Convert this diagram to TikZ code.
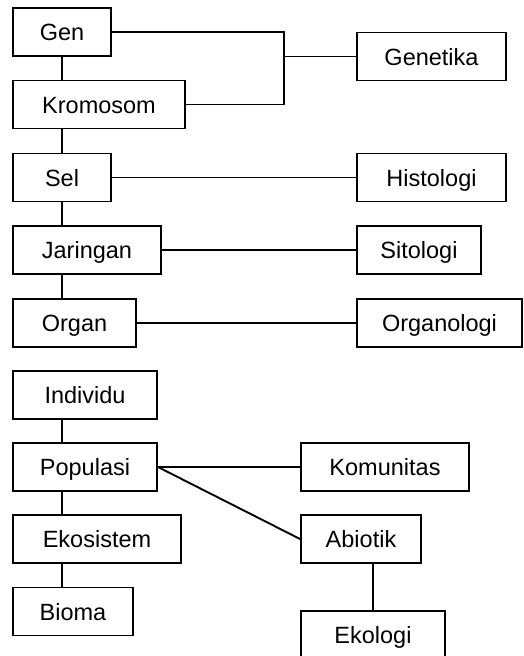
\documentclass[tikz,border=0pt]{standalone}
\usepackage{fontspec}
\setmainfont{Liberation Sans}
\begin{document}
\begin{tikzpicture}[x=1pt,y=-1pt,
  box/.style={draw, line width=1.9pt, minimum height=48pt, inner sep=0pt,
    font=\fontsize{23.5pt}{28pt}\selectfont, text height=17pt, text depth=0pt},
  conn/.style={line width=1.9pt}]
\useasboundingbox (0,0) rectangle (523,656);
\clip (0,0) rectangle (523,656);
\node[box, minimum width=98pt]  (gen) at (62,32) {Gen};
\node[box, minimum width=172pt] (kro) at (99,104.5) {Kromosom};
\node[box, minimum width=98pt]  (sel) at (62,177.5) {Sel};
\node[box, minimum width=148pt] (jar) at (87,250) {Jaringan};
\node[box, minimum width=123pt] (org) at (74.5,323) {Organ};
\node[box, minimum width=149pt] (genet) at (431.5,56.5) {Genetika};
\node[box, minimum width=149pt] (hist) at (431.5,177.5) {Histologi};
\node[box, minimum width=124pt] (sito) at (419,250) {Sitologi};
\node[box, minimum width=165pt] (organo) at (439.5,323) {Organologi};
\node[box, minimum width=144pt] (ind) at (85,395) {Individu};
\node[box, minimum width=144pt] (pop) at (85,467) {Populasi};
\node[box, minimum width=168pt] (eko) at (97,539) {Ekosistem};
\node[box, minimum width=120pt] (bio) at (73,611.5) {Bioma};
\node[box, minimum width=168pt] (kom) at (385,467) {Komunitas};
\node[box, minimum width=120pt] (abi) at (361,539) {Abiotik};
\node[box, minimum width=144pt] (ekol) at (373,635) {Ekologi};
% left column verticals
\draw[conn] (gen.south) -- (gen.south |- kro.north);
\draw[conn] (gen.south |- kro.south) -- (gen.south |- sel.north);
\draw[conn] (sel.south) -- (sel.south |- jar.north);
\draw[conn] (sel.south |- jar.south) -- (sel.south |- org.north);
\draw[conn] (sel.south |- ind.south) -- (sel.south |- pop.north);
\draw[conn] (sel.south |- pop.south) -- (sel.south |- eko.north);
\draw[conn] (sel.south |- eko.south) -- (sel.south |- bio.north);
% genetika bracket
\coordinate (bt) at (284,32);
\coordinate (bb) at (284,104.5);
\coordinate (bm) at (284,56.5);
\draw[conn] (gen.east) -- (bt) -- (bb) -- (kro.east);
\draw[conn] (bm) -- (genet.west);
\draw[conn] (sel.east) -- (hist.west);
\draw[conn] (jar.east) -- (sito.west);
\draw[conn] (org.east) -- (organo.west);
\draw[conn] (pop.east) -- (kom.west);
\draw[conn] (pop.east) -- (abi.west);
\draw[conn] (abi.south -| ekol.north) -- (ekol.north);
\end{tikzpicture}
\end{document}
